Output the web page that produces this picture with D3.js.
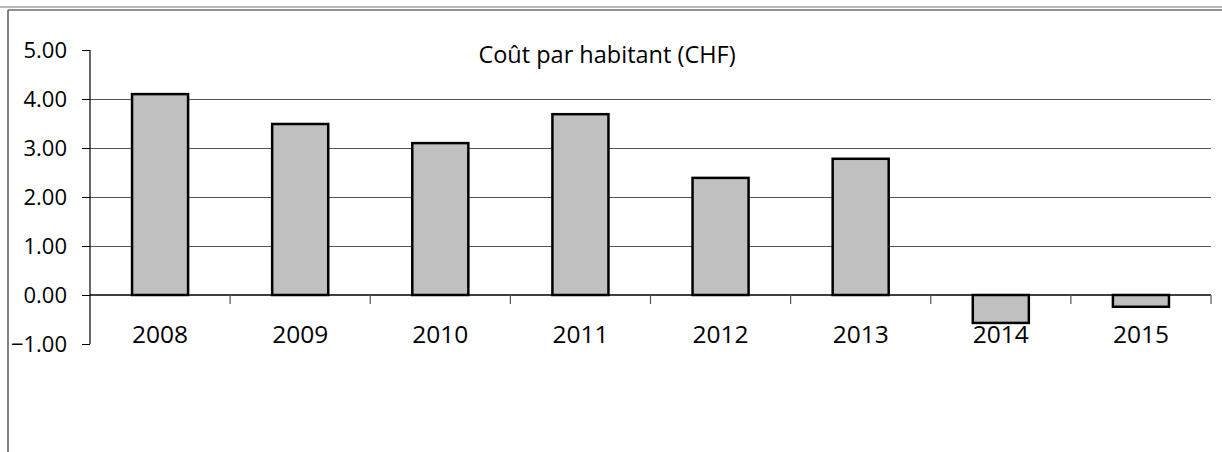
<!DOCTYPE html>
<html>
<head>
<meta charset="utf-8">
<script src="https://cdn.jsdelivr.net/npm/d3@7"></script>
<style>
  body { margin: 0; background: #fff; }
  svg { display: block; font-family: "Open Sans", "Noto Sans", sans-serif; }
</style>
</head>
<body>
<div id="chart"></div>
<script>
// chart data
const years = ["2008", "2009", "2010", "2011", "2012", "2013", "2014", "2015"];
const costPerHead = [4.10, 3.49, 3.10, 3.69, 2.39, 2.78, -0.57, -0.24];
const yTicks = [-1, 0, 1, 2, 3, 4, 5];
const title = "Coût par habitant (CHF)";

const width = 1222;
const height = 452;
const margin = { top: 50, right: 11, bottom: 108, left: 90 };

const svg = d3
  .select("#chart")
  .append("svg")
  .attr("width", width)
  .attr("height", height);

// outer frame (chart box edges)
svg.append("line")
  .attr("x1", 0).attr("x2", width).attr("y1", 7).attr("y2", 7)
  .attr("stroke", "#a0a0a0").attr("stroke-width", 1.5);
svg.append("line")
  .attr("x1", 8).attr("x2", width).attr("y1", 10).attr("y2", 10)
  .attr("stroke", "#6e6e6e").attr("stroke-width", 1.5);
svg.append("line")
  .attr("x1", 8).attr("x2", 8).attr("y1", 10).attr("y2", height)
  .attr("stroke", "#595959").attr("stroke-width", 1.5);

const x = d3
  .scaleBand()
  .domain(years)
  .range([margin.left, width - margin.right])
  .paddingInner(0.6)
  .paddingOuter(0.3);

const y = d3
  .scaleLinear()
  .domain([-1, 5])
  .range([height - margin.bottom, margin.top]);

const step = x.step();
const x0 = margin.left;
const x1 = width - margin.right;

// gridlines (1..4 only)
svg.append("g")
  .selectAll("line")
  .data(yTicks.filter(d => d > 0 && d < 5))
  .join("line")
  .attr("x1", x0).attr("x2", x1)
  .attr("y1", d => y(d) + 0.5).attr("y2", d => y(d) + 0.5)
  .attr("stroke", "#555")
  .attr("stroke-width", 1);

// bars
svg.append("g")
  .selectAll("rect")
  .data(costPerHead)
  .join("rect")
  .attr("x", (d, i) => x(years[i]))
  .attr("width", x.bandwidth())
  .attr("y", d => y(Math.max(0, d)))
  .attr("height", d => Math.abs(y(d) - y(0)))
  .attr("fill", "#c0c0c0")
  .attr("stroke", "#000")
  .attr("stroke-width", 2.5);

// y axis
const yAxis = d3.axisLeft(y)
  .tickValues(yTicks)
  .tickFormat(d3.format(".2f"))
  .tickSize(8)
  .tickPadding(15);

svg.append("g")
  .attr("transform", `translate(${x0},0)`)
  .call(yAxis)
  .call(g => g.select(".domain").remove())
  .call(g => g.selectAll(".tick line").attr("stroke", "#000"))
  .call(g => g.selectAll(".tick text")
    .attr("fill", "#000")
    .style("font-size", "22px")
    .style("font-family", "'Open Sans', sans-serif"));

svg.append("line")
  .attr("x1", x0).attr("x2", x0)
  .attr("y1", y(5)).attr("y2", y(-1))
  .attr("stroke", "#000").attr("stroke-width", 1.2);

// zero line
svg.append("line")
  .attr("x1", x0).attr("x2", x1)
  .attr("y1", y(0)).attr("y2", y(0))
  .attr("stroke", "#000").attr("stroke-width", 1.5);

// category boundary ticks
svg.append("g")
  .selectAll("line")
  .data(years.slice(1).concat(["end"]))
  .join("line")
  .attr("x1", (d, i) => x0 + step * (i + 1))
  .attr("x2", (d, i) => x0 + step * (i + 1))
  .attr("y1", y(0)).attr("y2", y(0) + 9)
  .attr("stroke", "#555")
  .attr("stroke-width", 1.2);

// year labels
svg.append("g")
  .selectAll("text")
  .data(years)
  .join("text")
  .attr("x", d => x(d) + x.bandwidth() / 2)
  .attr("y", y(0) + 48)
  .attr("text-anchor", "middle")
  .style("font-size", "24.5px")
  .text(d => d);

// title
svg.append("text")
  .attr("x", 607)
  .attr("y", 63)
  .attr("text-anchor", "middle")
  .style("font-size", "23.5px")
  .text(title);
</script>
</body>
</html>
